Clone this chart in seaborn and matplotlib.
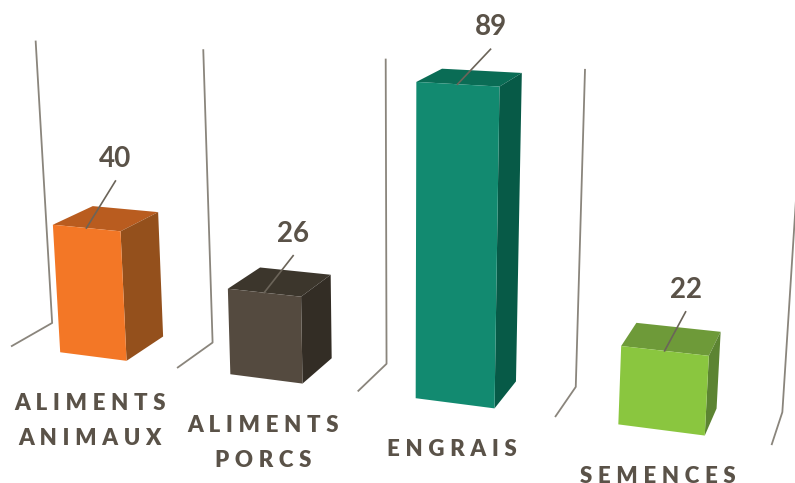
import numpy as np
import pandas as pd
import seaborn as sb
from matplotlib import pyplot as plt
from matplotlib.patches import Polygon
from matplotlib.transforms import Affine2D, Transform

# Dados do gráfico
categorias = ['ALIMENTS\nANIMAUX', 'ALIMENTS\nPORCS', 'ENGRAIS', 'SEMENCES']
valores = [40, 26, 89, 22]

# Cores de cada barra: frente, topo, lateral
cor_frente = ['#F37726', '#544A3F', '#128A70', '#8AC63F']
cor_topo = ['#B95C1F', '#3C362C', '#0A6C55', '#6E9A39']
cor_lado = ['#94501C', '#332D25', '#075A47', '#5C8432']
cor_texto = '#5A5248'
cor_grade = '#8A857C'

# Layout: profundidade da parte de trás de cada barra e deslocamento da linha guia
fundo_barra = [0.0, 0.04, 0.06, 0.14]
guia_dx = [29, 29, 33, 21]
guia_dy = [-47, -37, -35, -39]
y_grade = 90.5

# Calibração da perspectiva: pontos da cena (x, y, z) e seus pixels
cena = [(-0.5, 0, 0), (3.5, 0, 0), (-0.5, y_grade, 0), (3.5, y_grade, 0), (-0.5, 0, 1), (3.5, 0, 1),
        (1.5, 0, 0), (1.5, y_grade, 0), (1.5, 0, 1)]
pixels = [(52, 323), (782, 414), (35, 42), (803, 80), (12, 346), (772, 444),
          (387, 362), (387, 60), (358, 391)]

linhas = []
for (X, Y, Z), (u, v) in zip(cena, pixels):
    linhas.append([X, Y, Z, 1, 0, 0, 0, 0, -u*X, -u*Y, -u*Z, -u])
    linhas.append([0, 0, 0, 0, X, Y, Z, 1, -v*X, -v*Y, -v*Z, -v])
P = np.linalg.svd(np.array(linhas, dtype=float))[2][-1].reshape(3, 4)


def projeta(x, y, z):
    # Ponto da cena para pixel da imagem
    p = P.dot([x, y, z, 1])
    return p[0]/p[2], p[1]/p[2]


class PlanoZ(Transform):
    # Leva as coordenadas de dados do seaborn para o plano z da cena
    input_dims = 2
    output_dims = 2

    def __init__(self, z):
        super().__init__()
        self.z = z

    def transform_non_affine(self, values):
        values = np.asarray(values)
        return np.array([projeta(x, y, self.z) for x, y in values])


# Figura em pixels, com y para baixo como na imagem
fig = plt.figure(figsize=(7.95, 4.83), dpi=100)
ax = fig.add_axes([0, 0, 1, 1])
px = Affine2D().scale(1, -1).translate(0, 483)

# Grade: linha vertical na parede do fundo e linha curta no chão
for x in np.arange(-0.5, 4):
    trecho = [projeta(x, y_grade, 0), projeta(x, 0, 0), projeta(x, 0, 1)]
    ax.plot(*zip(*trecho), color=cor_grade, lw=1.3, transform=px, zorder=1)

df = pd.DataFrame({'categoria': categorias, 'valor': valores})
sb.barplot(data=df, x='categoria', y='valor', hue='categoria', palette=cor_frente,
           width=0.4, saturation=1, legend=False, ax=ax, zorder=3)
ax.set_axis_off()

for i, barra in enumerate(ax.patches[:len(valores)]):
    x0 = barra.get_x()
    x1 = x0 + barra.get_width()
    h = barra.get_height()
    zb = fundo_barra[i]
    barra.set_transform(PlanoZ(1) + px)
    barra.set_linewidth(0)

    topo = [projeta(x0, h, 1), projeta(x1, h, 1), projeta(x1, h, zb), projeta(x0, h, zb)]
    lado = [projeta(x1, 0, 1), projeta(x1, h, 1), projeta(x1, h, zb), projeta(x1, 0, zb)]
    ax.add_patch(Polygon(topo, fc=cor_topo[i], lw=0, transform=px, zorder=2))
    ax.add_patch(Polygon(lado, fc=cor_lado[i], lw=0, transform=px, zorder=2))

    # Linha guia e valor
    xg, yg = projeta(i, h, 1)
    ax.plot([xg, xg+guia_dx[i]], [yg, yg+guia_dy[i]], color='#6B6459', lw=1.2, transform=px, zorder=4)
    ax.text(xg+guia_dx[i], yg+guia_dy[i]-22, str(valores[i]), color=cor_texto, fontsize=20,
            fontweight='bold', family=['Lato', 'DejaVu Sans'], ha='center', va='center',
            transform=px, zorder=5)

    # Rótulo com letras espaçadas
    xr, yr = projeta(i, 0, 1)
    rotulo = '\n'.join('\u2005'.join(parte) for parte in categorias[i].split('\n'))
    ax.text(xr-3, yr+36, rotulo, color=cor_texto, fontsize=16, fontweight='heavy',
            family=['Lato', 'DejaVu Sans'], ha='center', va='top', linespacing=1.86,
            transform=px, zorder=5)

fig.savefig('out.png', dpi=100)
plt.close()
